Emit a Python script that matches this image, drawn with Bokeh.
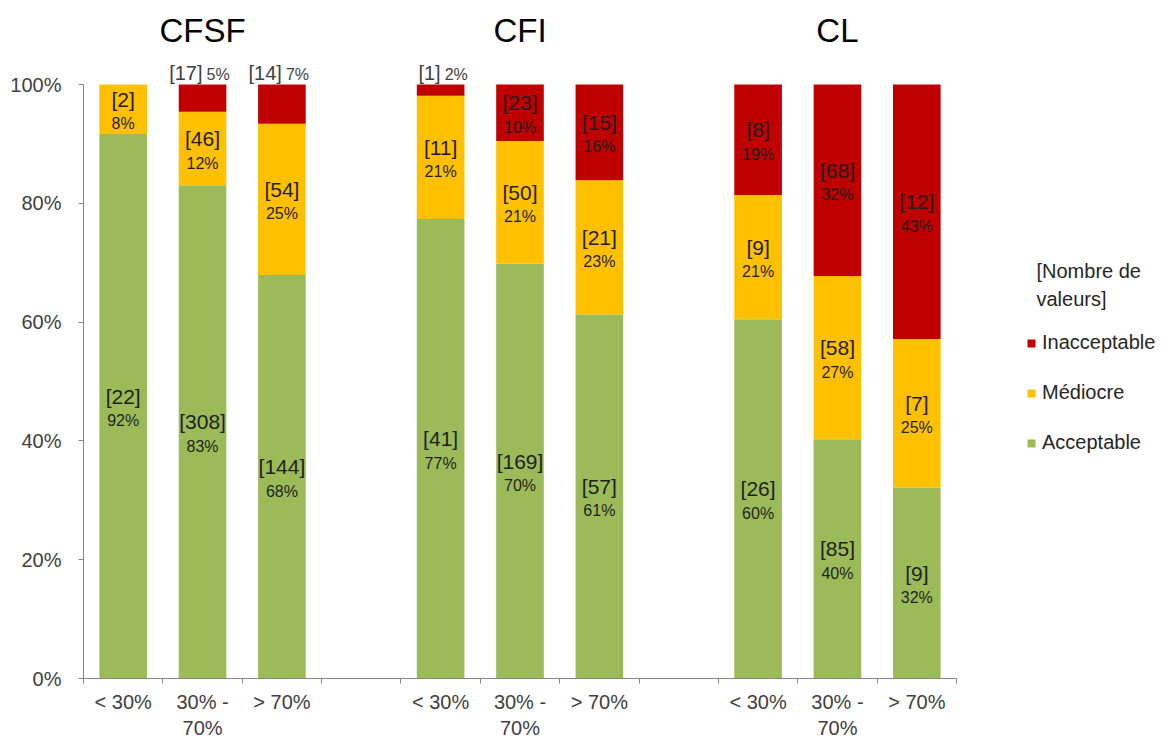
from bokeh.plotting import figure
from bokeh.models import (ColumnDataSource, Range1d, FixedTicker, NumeralTickFormatter,
                          Legend, LegendItem, Label)
from bokeh.core.properties import value
from bokeh.embed import file_html
from bokeh.resources import INLINE

# ---------------- data ----------------
groups = ["CFSF", "CFI", "CL"]
classes = ["< 30%", "30% -\n70%", "> 70%"]
acceptable = [22, 308, 144, 41, 169, 57, 26, 85, 9]
mediocre = [2, 46, 54, 11, 50, 21, 9, 58, 7]
inacceptable = [0, 17, 14, 1, 23, 15, 8, 68, 12]
series_names = ["Acceptable", "Médiocre", "Inacceptable"]
series_colors = ["#9BBB59", "#FFC000", "#C00000"]
y_ticks = [0, 0.2, 0.4, 0.6, 0.8, 1.0]
legend_title = ["[Nombre de", "valeurs]"]

FONT = "Liberation Sans"
AXIS_GREY = "#868686"
TEXT_GREY = "#404040"

n_cls = len(classes)
slot = n_cls + 1  # one empty slot between groups

xs, xlabels = [], {}
for g in range(len(groups)):
    for i in range(n_cls):
        k = g * slot + i
        xs.append(k)
        xlabels[k] = classes[i]

series_counts = [acceptable, mediocre, inacceptable]
totals = [a + m + r for a, m, r in zip(acceptable, mediocre, inacceptable)]
keys = ["acc", "med", "ina"]
data = {"x": xs}
for key, cnts in zip(keys, series_counts):
    data[key] = [c / t for c, t in zip(cnts, totals)]
src = ColumnDataSource(data)

# segment labels
inside = dict(x=[], y=[], cnt=[], pct=[])
above = dict(x=[], y=[], cnt=[], pct=[])
for j, x in enumerate(xs):
    bottom = 0.0
    for key, cnts in zip(keys, series_counts):
        share = data[key][j]
        if cnts[j] > 0:
            lab_c = "[%d]" % cnts[j]
            lab_p = "%d%%" % round(share * 100)
            if share >= 0.075:
                inside["x"].append(x); inside["y"].append(bottom + share / 2)
                inside["cnt"].append(lab_c); inside["pct"].append(lab_p)
            else:
                above["x"].append(x); above["y"].append(1.0)
                above["cnt"].append(lab_c); above["pct"].append(lab_p)
        bottom += share

# ---------------- figure ----------------
W, H = 1168, 742
LEFT, BOTTOM_Y, TOP_Y = 83, 678, 13
px_per_unit = (956 - 83) / (slot * len(groups) - 1)
x_start = -0.5
x_end = x_start + (W - LEFT) / px_per_unit
y_end = (BOTTOM_Y - TOP_Y) / 594.0

p = figure(width=W, height=H, output_backend="svg", toolbar_location=None,
           x_range=Range1d(x_start, x_end), y_range=Range1d(0, y_end),
           min_border_left=LEFT, min_border_right=0, min_border_top=TOP_Y,
           min_border_bottom=H - BOTTOM_Y)
p.outline_line_color = None
p.xgrid.visible = False
p.ygrid.visible = False
p.background_fill_color = "white"

rs = p.vbar_stack(keys, x="x", width=0.6, color=series_colors, line_color=None, source=src)

# x axis
xa = p.xaxis[0]
xa.ticker = FixedTicker(ticks=xs, minor_ticks=[b - 0.5 for b in range(slot * len(groups))])
xa.major_label_overrides = xlabels
xa.bounds = (x_start, slot * len(groups) - 1.5)
xa.axis_line_color = AXIS_GREY
xa.major_tick_out = 0
xa.major_tick_in = 0
xa.minor_tick_out = 5
xa.minor_tick_in = 0
xa.minor_tick_line_color = AXIS_GREY
xa.major_label_text_font = FONT
xa.major_label_text_font_size = "20px"
xa.major_label_text_color = TEXT_GREY
xa.major_label_standoff = 7

# y axis
ya = p.yaxis[0]
ya.ticker = FixedTicker(ticks=y_ticks)
ya.formatter = NumeralTickFormatter(format="0%")
ya.bounds = (0, 1)
ya.axis_line_color = AXIS_GREY
ya.major_tick_line_color = AXIS_GREY
ya.major_tick_out = 5
ya.major_tick_in = 0
ya.minor_tick_out = 0
ya.minor_tick_in = 0
ya.major_label_text_font = FONT
ya.major_label_text_font_size = "20px"
ya.major_label_text_color = TEXT_GREY
ya.major_label_standoff = 17

# labels inside segments
s_in = ColumnDataSource(inside)
p.text(x="x", y="y", text="cnt", source=s_in, text_font=value(FONT), text_font_size="21px",
       text_align="center", text_baseline="alphabetic", y_offset=-10, text_color="#1f1f1f")
p.text(x="x", y="y", text="pct", source=s_in, text_font=value(FONT), text_font_size="16px",
       text_align="center", text_baseline="top", y_offset=6, text_color="#1f1f1f")

# labels above small top segments
s_ab = ColumnDataSource(above)
p.text(x="x", y="y", text="cnt", source=s_ab, text_font=value(FONT), text_font_size="20px",
       text_align="right", text_baseline="bottom", y_offset=-1, text_color=TEXT_GREY)
p.text(x="x", y="y", text="pct", source=s_ab, text_font=value(FONT), text_font_size="16px",
       text_align="left", text_baseline="bottom", y_offset=-2, x_offset=4, text_color=TEXT_GREY)

# group titles
title_y = (BOTTOM_Y - 30) / 594.0
gsrc = ColumnDataSource(dict(x=[g * slot + (n_cls - 1) / 2 for g in range(len(groups))], t=groups))
p.text(x="x", y=value(title_y), text="t", source=gsrc, text_font=value(FONT), text_font_size="33px",
       text_align="center", text_baseline="middle", text_color="black")

# legend
items = [LegendItem(label=n, renderers=[r]) for n, r in zip(series_names, rs)][::-1]
legend = Legend(items=items, location=(943, 224), orientation="vertical",
                glyph_width=10, glyph_height=10, label_standoff=6, spacing=27,
                padding=0, margin=0, border_line_color=None, background_fill_alpha=0,
                label_text_font=FONT, label_text_font_size="20px", label_text_color="#262626",
                label_height=20)
p.add_layout(legend)

lx = (1036 - LEFT) / px_per_unit + x_start
for line, py in zip(legend_title, [270, 298]):
    p.add_layout(Label(x=lx, y=(BOTTOM_Y - py) / 594.0, text=line, text_font=FONT,
                       text_font_size="20px", text_color="#262626",
                       text_align="left", text_baseline="middle"))

open("out.html", "w").write(file_html(p, INLINE))
